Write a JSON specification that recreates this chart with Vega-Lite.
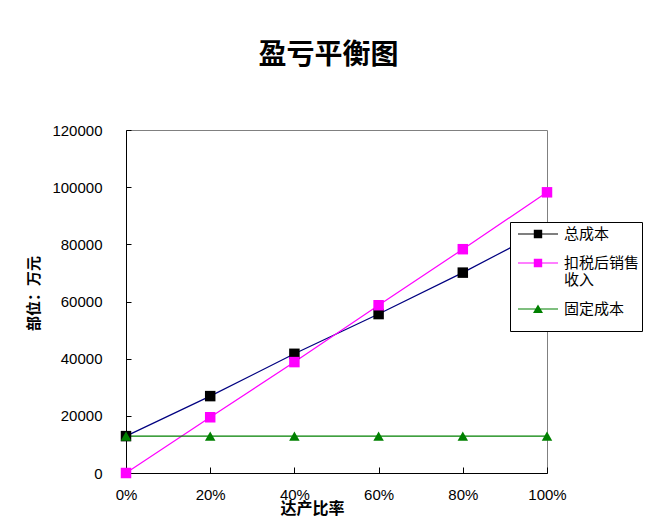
{
  "$schema": "https://vega.github.io/schema/vega-lite/v6.json",
  "width": 421,
  "height": 343,
  "autosize": "none",
  "padding": {"left": 126, "top": 130, "right": 101, "bottom": 56},
  "background": "white",
  "title": {
    "text": "盈亏平衡图",
    "font": "Noto Sans CJK SC",
    "fontSize": 28,
    "fontWeight": "bold",
    "color": "black",
    "anchor": "middle",
    "baseline": "bottom",
    "offset": 25,
    "dx": -8
  },
  "data": {
    "values": [
      {"rate": 0.0, "series": "总成本", "value": 12900},
      {"rate": 0.2, "series": "总成本", "value": 26900},
      {"rate": 0.4, "series": "总成本", "value": 41700},
      {"rate": 0.6, "series": "总成本", "value": 55600},
      {"rate": 0.8, "series": "总成本", "value": 70100},
      {"rate": 1.0, "series": "总成本", "value": 85500},
      {"rate": 0.0, "series": "扣税后销售收入", "value": 0},
      {"rate": 0.2, "series": "扣税后销售收入", "value": 19500},
      {"rate": 0.4, "series": "扣税后销售收入", "value": 38800},
      {"rate": 0.6, "series": "扣税后销售收入", "value": 58700},
      {"rate": 0.8, "series": "扣税后销售收入", "value": 78300},
      {"rate": 1.0, "series": "扣税后销售收入", "value": 98200},
      {"rate": 0.0, "series": "固定成本", "value": 12900},
      {"rate": 0.2, "series": "固定成本", "value": 12900},
      {"rate": 0.4, "series": "固定成本", "value": 12900},
      {"rate": 0.6, "series": "固定成本", "value": 12900},
      {"rate": 0.8, "series": "固定成本", "value": 12900},
      {"rate": 1.0, "series": "固定成本", "value": 12900}
    ]
  },
  "encoding": {
    "x": {
      "field": "rate",
      "type": "quantitative",
      "scale": {"domain": [0, 1], "nice": false, "zero": false},
      "axis": {
        "title": "达产比率",
        "values": [0, 0.2, 0.4, 0.6, 0.8, 1],
        "format": ".0%",
        "grid": false,
        "domainColor": "black",
        "tickColor": "black",
        "tickSize": -6,
        "labelPadding": 20,
        "labelFont": "Liberation Sans",
        "labelFontSize": 15,
        "labelColor": "black",
        "labelFlush": false,
        "titleFont": "Noto Sans CJK SC",
        "titleFontSize": 16,
        "titleFontWeight": "bold",
        "titleColor": "black",
        "titleX": 186,
        "titleY": 35,
        "titleBaseline": "middle",
        "titleAnchor": "start",
        "titleAlign": "center"
      }
    },
    "y": {
      "field": "value",
      "type": "quantitative",
      "scale": {"domain": [0, 120000], "nice": false},
      "axis": {
        "title": "部位：万元",
        "values": [0, 20000, 40000, 60000, 80000, 100000, 120000],
        "format": "d",
        "grid": false,
        "domainColor": "black",
        "tickColor": "black",
        "tickSize": -5,
        "labelPadding": 29,
        "labelFont": "Liberation Sans",
        "labelFontSize": 15,
        "labelColor": "black",
        "labelFlush": false,
        "titleFont": "Noto Sans CJK SC",
        "titleFontSize": 15,
        "titleFontWeight": "bold",
        "titleColor": "black",
        "titleX": -93,
        "titleY": 163,
        "titleAngle": -90,
        "titleBaseline": "middle",
        "titleAlign": "center",
        "titleAnchor": "start"
      }
    }
  },
  "layer": [
    {
      "mark": {"type": "line", "strokeWidth": 1.2},
      "encoding": {
        "stroke": {
          "field": "series",
          "type": "nominal",
          "scale": {"domain": ["固定成本", "总成本", "扣税后销售收入"], "range": ["#008000", "#000080", "#FF00FF"]},
          "legend": null
        }
      }
    },
    {
      "mark": {"type": "point", "filled": true, "opacity": 1, "size": 110},
      "encoding": {
        "shape": {
          "field": "series",
          "type": "nominal",
          "scale": {"domain": ["扣税后销售收入", "总成本", "固定成本"], "range": ["square", "square", "triangle-up"]},
          "legend": null
        },
        "fill": {
          "field": "series",
          "type": "nominal",
          "scale": {"domain": ["固定成本", "扣税后销售收入", "总成本"], "range": ["#008000", "#FF00FF", "#000000"]},
          "legend": null
        }
      }
    },
    {
      "mark": {"type": "point", "filled": true, "opacity": 0, "size": 110},
      "encoding": {
        "shape": {
          "field": "series",
          "type": "nominal",
          "scale": {
            "domain": ["总成本", "扣税后销售收入", "固定成本"],
            "range": [
              "M-2,-0.06H2V0.06H-2Z M-0.42,-0.42H0.42V0.42H-0.42Z",
              "M-2,-0.06H2V0.06H-2Z M-0.42,-0.42H0.42V0.42H-0.42Z",
              "M-2,-0.06H2V0.06H-2Z M0,-0.45L0.5,0.4H-0.5Z"
            ]
          },
          "legend": {
            "title": " ",
            "titleOrient": "bottom",
            "titleFontSize": 8,
            "titlePadding": 4,
            "orient": "none",
            "legendX": 384,
            "legendY": 92,
            "strokeColor": "black",
            "fillColor": "white",
            "padding": 2,
            "symbolSize": 400,
            "symbolOpacity": 1,
            "symbolStrokeWidth": 0,
            "symbolOffset": 16,
            "labelOffset": 16,
            "labelFont": "Noto Sans CJK SC",
            "labelFontSize": 15,
            "labelColor": "black",
            "labelLimit": 200,
            "rowPadding": 11,
            "labelExpr": "datum.label == '扣税后销售收入' ? ['扣税后销售', '收入'] : datum.label"
          }
        },
        "fill": {
          "field": "series",
          "type": "nominal",
          "scale": {"domain": ["总成本", "扣税后销售收入", "固定成本"], "range": ["#000000", "#FF00FF", "#008000"]}
        }
      }
    }
  ],
  "resolve": {"scale": {"fill": "independent", "shape": "independent"}},
  "config": {
    "view": {"stroke": "#808080", "strokeWidth": 1}
  }
}
